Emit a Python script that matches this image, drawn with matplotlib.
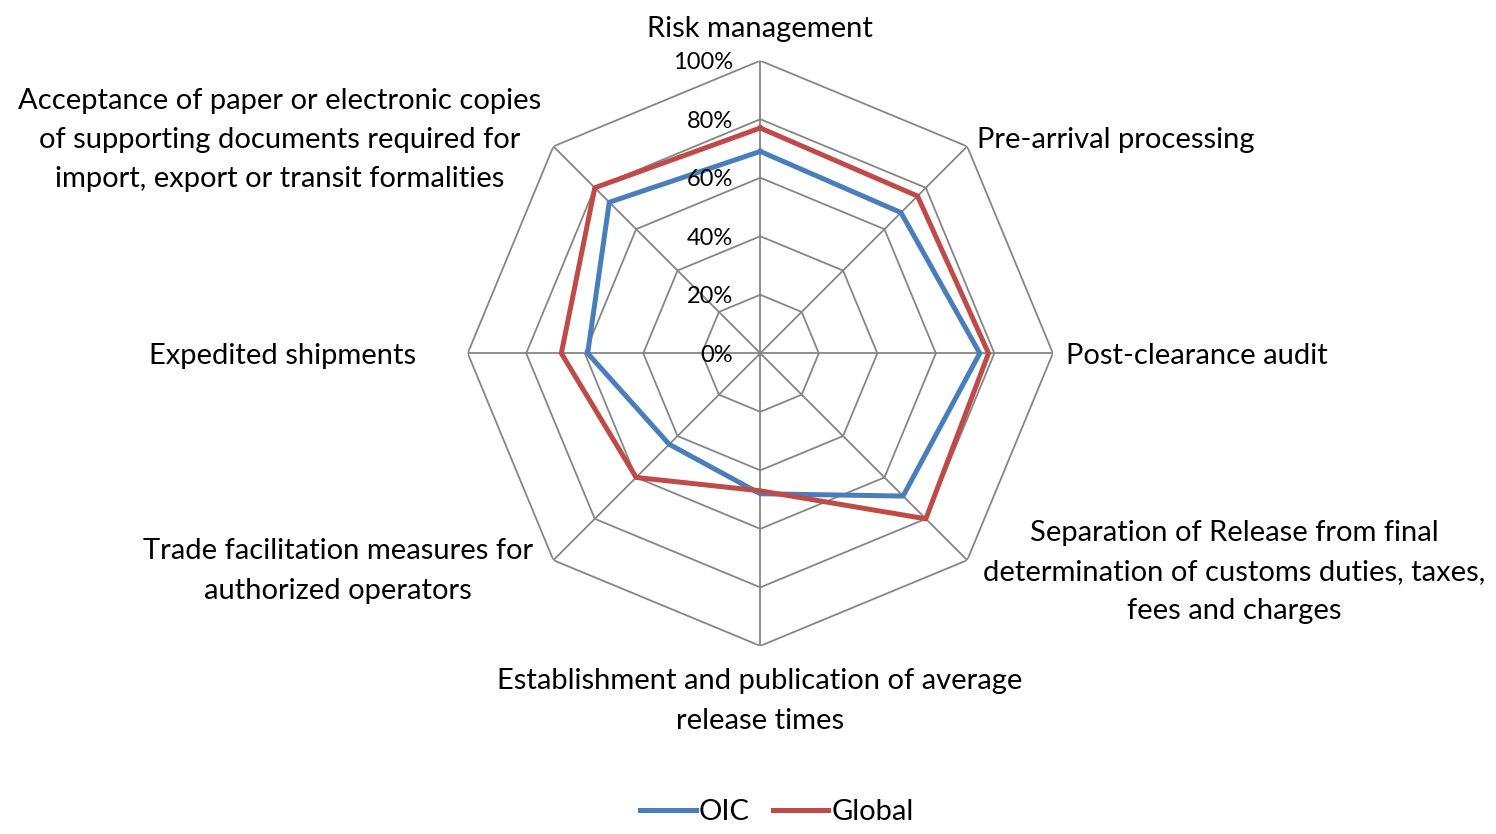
import matplotlib
matplotlib.use("Agg")
import matplotlib.pyplot as plt
import matplotlib.transforms as mtransforms
import numpy as np

plt.rcParams['font.family'] = ['Lato', 'DejaVu Sans']

categories = ["Risk management", "Pre-arrival processing", "Post-clearance audit",
              "Separation of Release from final\ndetermination of customs duties, taxes,\nfees and charges",
              "Establishment and publication of average\nrelease times",
              "Trade facilitation measures for\nauthorized operators",
              "Expedited shipments",
              "Acceptance of paper or electronic copies\nof supporting documents required for\nimport, export or transit formalities"]
oic = [0.69, 0.68, 0.75, 0.69, 0.48, 0.44, 0.59, 0.73]
glob = [0.77, 0.76, 0.78, 0.80, 0.47, 0.60, 0.68, 0.80]
ticks = [0.0, 0.2, 0.4, 0.6, 0.8, 1.0]
tick_labels = ["0%", "20%", "40%", "60%", "80%", "100%"]

W, H = 1496, 834
fig = plt.figure(figsize=(W / 100, H / 100), dpi=100)

# radar center and radius in pixels
cx, cy, R = 760.3, 353.3, 292.6
ax = fig.add_axes([(cx - R) / W, 1 - (cy + R) / H, 2 * R / W, 2 * R / H], projection='polar')
ax.set_theta_zero_location('N')
ax.set_theta_direction(-1)
ax.set_ylim(0, 1)
ax.axis('off')

n = len(categories)
theta = np.arange(n) * 2 * np.pi / n
theta_c = np.append(theta, theta[0])

grid_col = '#868686'
for r in ticks[1:]:
    ax.plot(theta_c, [r] * (n + 1), color=grid_col, lw=1.3, zorder=1)
for t in theta:
    ax.plot([t, t], [0, 1], color=grid_col, lw=1.3, zorder=1)

ax.plot(theta_c, oic + oic[:1], color='#4A7EBB', lw=3.6, zorder=3, label='OIC')
ax.plot(theta_c, glob + glob[:1], color='#BE4B48', lw=3.6, zorder=3, label='Global')

off = mtransforms.offset_copy(ax.transData, fig=fig, x=-27, y=-2, units='dots')
for r, lab in zip(ticks, tick_labels):
    ax.text(0, r, lab, transform=off, ha='right', va='center', fontsize=17)

# category label positions (pixels)
pos = [(760, 29, 'center'), (977, 140, 'left'), (1066, 356, 'left'), (1234, 572, 'center'),
       (760, 701, 'center'), (338, 571, 'center'), (283, 356, 'center'), (280, 140, 'center')]
for lab, (x, y, ha) in zip(categories, pos):
    fig.text(x / W, 1 - y / H, lab, ha=ha, va='center', fontsize=21,
             multialignment='center', linespacing=1.62)

fig.legend(loc='center', bbox_to_anchor=(777 / W, 1 - 812 / H), ncol=2, frameon=False,
           fontsize=21, handlelength=1.9, handletextpad=0.1, columnspacing=0.8,
           borderpad=0.1)

fig.savefig('out.png', dpi=100)
